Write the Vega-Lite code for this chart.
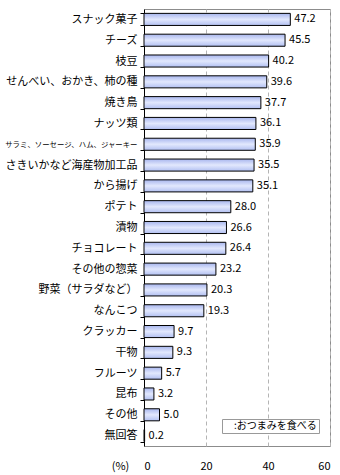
{
  "$schema": "https://vega.github.io/schema/vega-lite/v6.json",
  "width": 186,
  "height": 437,
  "autosize": {"type": "none"},
  "padding": {"left": 144, "top": 9, "right": 10, "bottom": 29},
  "background": "white",
  "config": {
    "font": "Noto Sans CJK JP",
    "view": {"stroke": "#8c8c8c", "strokeWidth": 1}
  },
  "data": {
    "values": [
      {"item": "スナック菓子", "value": 47.2},
      {"item": "チーズ", "value": 45.5},
      {"item": "枝豆", "value": 40.2},
      {"item": "せんべい、おかき、柿の種", "value": 39.6},
      {"item": "焼き鳥", "value": 37.7},
      {"item": "ナッツ類", "value": 36.1},
      {"item": "サラミ、ソーセージ、ハム、ジャーキー", "value": 35.9},
      {"item": "さきいかなど海産物加工品", "value": 35.5},
      {"item": "から揚げ", "value": 35.1},
      {"item": "ポテト", "value": 28.0},
      {"item": "漬物", "value": 26.6},
      {"item": "チョコレート", "value": 26.4},
      {"item": "その他の惣菜", "value": 23.2},
      {"item": "野菜（サラダなど）", "value": 20.3},
      {"item": "なんこつ", "value": 19.3},
      {"item": "クラッカー", "value": 9.7},
      {"item": "干物", "value": 9.3},
      {"item": "フルーツ", "value": 5.7},
      {"item": "昆布", "value": 3.2},
      {"item": "その他", "value": 5.0},
      {"item": "無回答", "value": 0.2}
    ]
  },
  "encoding": {
    "y": {
      "field": "item",
      "type": "nominal",
      "sort": null,
      "scale": {"paddingInner": 0.42, "paddingOuter": 0.21},
      "axis": {
        "title": null,
        "domainColor": "#000000",
        "tickColor": "#000000",
        "tickSize": 4,
        "tickBand": "extent",
        "labelPadding": 3,
        "labelColor": "#000000",
        "labelFontSize": {"condition": {"test": "length(datum.label) > 14", "value": 7.4}, "value": 11},
        "labelLimit": 200
      }
    },
    "x": {
      "field": "value",
      "type": "quantitative",
      "scale": {"domain": [0, 60], "nice": false},
      "axis": {
        "values": [0, 20, 40, 60],
        "title": "(%)",
        "titleX": -24,
        "titleY": 20,
        "titleAlign": "center",
        "titleBaseline": "middle",
        "titleFontWeight": "normal",
        "titleFontSize": 11,
        "titleColor": "#000000",
        "domain": false,
        "ticks": false,
        "labelPadding": 14,
        "labelFontSize": 11,
        "labelColor": "#000000",
        "grid": true,
        "gridColor": "#b4b4b4",
        "gridDash": [4, 3],
        "gridWidth": 1
      }
    }
  },
  "layer": [
    {
      "mark": {
        "type": "bar",
        "stroke": "#000000",
        "strokeWidth": 1,
        "fill": {
          "gradient": "linear",
          "x1": 0, "y1": 0, "x2": 0, "y2": 1,
          "stops": [
            {"offset": 0, "color": "#a8b6ee"},
            {"offset": 0.5, "color": "#e2e8fd"},
            {"offset": 1, "color": "#b2c0f2"}
          ]
        }
      }
    },
    {
      "mark": {"type": "text", "align": "left", "baseline": "middle", "dx": 4, "fontSize": 11},
      "encoding": {
        "text": {"field": "value", "type": "quantitative", "format": ".1f"},
        "color": {
          "datum": ":おつまみを食べる",
          "type": "nominal",
          "scale": {"range": ["#000000"]},
          "legend": {
            "title": null,
            "orient": "none",
            "legendX": 78,
            "legendY": 410,
            "strokeColor": "#999999",
            "fillColor": "#ffffff",
            "padding": 2,
            "symbolSize": 0,
            "symbolStrokeWidth": 0,
            "symbolOpacity": 0,
            "labelOffset": 0,
            "labelFontSize": 10,
            "labelColor": "#000000"
          }
        }
      }
    }
  ]
}
